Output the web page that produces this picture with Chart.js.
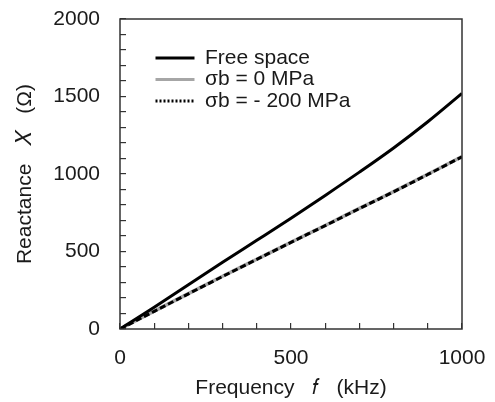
<!DOCTYPE html>
<html>
<head>
<meta charset="utf-8">
<script src="https://cdn.jsdelivr.net/npm/chart.js@4.4.1/dist/chart.umd.min.js"></script>
<style>
  html, body { margin: 0; padding: 0; background: #ffffff; }
  #wrap { width: 495px; height: 402px; position: relative; }
</style>
</head>
<body>
<div id="wrap"><canvas id="c"></canvas></div>
<script>
// ---- data ----
const frequency = [0, 100, 200, 300, 400, 500, 600, 700, 800, 900, 1000];        // kHz
const freeSpace = [0, 140, 285, 430, 572, 715, 862, 1012, 1168, 1337, 1520];      // Ω
const sigmaB0 = [0, 115, 228, 340, 450, 560, 668, 778, 886, 998, 1112];           // Ω
const sigmaBm200 = [0, 114, 227, 339, 449, 559, 667, 777, 885, 997, 1111];        // Ω
const seriesNames = ['Free space', 'σb = 0 MPa', 'σb = - 200 MPa'];
const xTickLabels = [0, 500, 1000];
const yTickLabels = [0, 500, 1000, 1500, 2000];

const FONT = '"Liberation Sans", Arial, sans-serif';
const TXT = '#1a1a1a';
const FS = 21;

function pts(vals) { return frequency.map((f, i) => ({ x: f, y: vals[i] })); }

const framePlugin = {
  id: 'frame',
  afterLayout(chart) {
    const lg = chart.legend, ca = chart.chartArea;
    if (lg && ca) {
      const w = lg.width, h = lg.height;
      lg.left = ca.left + 35; lg.right = lg.left + w;
      lg.top = ca.top + 28; lg.bottom = lg.top + h;
    }
  },
  afterDatasetsDraw(chart) {
    const a = chart.chartArea, ctx = chart.ctx;
    ctx.save();
    ctx.strokeStyle = '#333';
    ctx.lineWidth = 1.5;
    ctx.strokeRect(a.left, a.top, a.right - a.left, a.bottom - a.top);
    ctx.restore();
  }
};

new Chart(document.getElementById('c'), {
  type: 'line',
  data: {
    datasets: [
      { label: seriesNames[0], data: pts(freeSpace), borderColor: '#000', borderWidth: 3, pointRadius: 0, cubicInterpolationMode: 'monotone', fill: false, order: 1 },
      { label: seriesNames[1], data: pts(sigmaB0), borderColor: '#a6a6a6', borderWidth: 3.5, pointRadius: 0, cubicInterpolationMode: 'monotone', fill: false, order: 3 },
      { label: seriesNames[2], data: pts(sigmaBm200), borderColor: '#000', borderWidth: 3, borderDash: [6, 3], pointRadius: 0, cubicInterpolationMode: 'monotone', fill: false, order: 2 }
    ]
  },
  options: {
    responsive: true,
    maintainAspectRatio: false,
    animation: false,
    layout: { padding: { left: 0, right: 33, top: 19, bottom: 0 } },
    plugins: {
      tooltip: { enabled: false },
      legend: {
        position: 'chartArea',
        align: 'start',
        labels: {
          font: { family: FONT, size: FS },
          color: TXT,
          boxWidth: 39,
          boxHeight: 0,
          padding: 0.5,
          generateLabels(chart) {
            return chart.data.datasets.map((ds, i) => ({
              text: ds.label,
              fillStyle: ds.borderColor,
              strokeStyle: ds.borderColor,
              lineWidth: 3,
              lineDash: i === 2 ? [2, 2] : [],
              hidden: false,
              datasetIndex: i,
              fontColor: TXT
            }));
          }
        }
      }
    },
    scales: {
      x: {
        type: 'linear',
        min: 0, max: 1000,
        afterFit(s) { s.height = 73; s.paddingLeft = 0; s.paddingRight = 0; s.paddingTop = 0; s.paddingBottom = 0; },
        border: { display: false },
        grid: { drawOnChartArea: false, drawTicks: true, tickLength: -6, color: '#333', lineWidth: 1.2 },
        ticks: {
          stepSize: 100,
          padding: 22.4,
          color: TXT,
          font: { family: FONT, size: FS },
          maxRotation: 0,
          autoSkip: false,
          callback: (v) => xTickLabels.includes(v) ? String(v) : ''
        },
        title: {
          display: true,
          text: 'Frequency   𝑓   (kHz)',
          color: TXT,
          font: { family: FONT, size: FS },
          padding: { top: 0, bottom: 1.4 }
        }
      },
      y: {
        type: 'linear',
        min: 0, max: 2000,
        afterFit(s) { s.width = 120; s.paddingLeft = 0; s.paddingRight = 0; s.paddingTop = 0; s.paddingBottom = 0; },
        border: { display: false },
        grid: { drawOnChartArea: false, drawTicks: true, tickLength: -6, color: '#333', lineWidth: 1.2 },
        ticks: {
          stepSize: 100,
          padding: 26,
          color: TXT,
          font: { family: FONT, size: FS },
          autoSkip: false,
          callback: (v) => yTickLabels.includes(v) ? String(v) : ''
        },
        title: {
          display: true,
          text: 'Reactance   𝑋   (Ω)',
          color: TXT,
          font: { family: FONT, size: FS },
          padding: { top: 12.4, bottom: 0 }
        }
      }
    }
  },
  plugins: [framePlugin]
});
</script>
</body>
</html>
